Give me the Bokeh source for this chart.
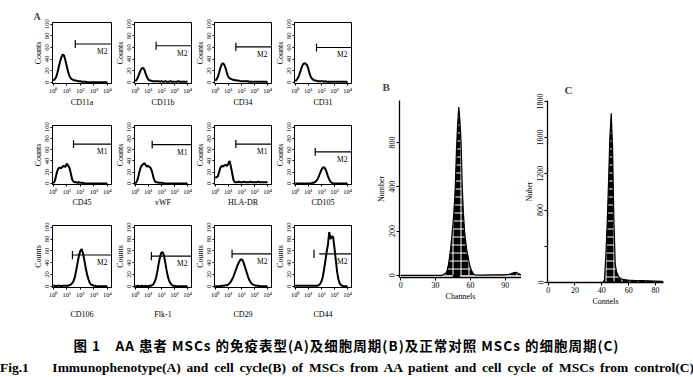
from bokeh.plotting import figure
from bokeh.layouts import row, column
from bokeh.models import Div, AllLabels
from bokeh.core.properties import value
from bokeh.embed import file_html
from bokeh.resources import INLINE

SERIF = "Liberation Serif"

# ---------------- Panel A : immunophenotype histograms ----------------
decades = [0.0, 0.1, 0.2, 0.3, 0.4, 0.5, 0.6, 0.7, 0.8, 0.9,
           1.0, 1.1, 1.2, 1.3, 1.4, 1.5, 1.6, 1.7, 1.8, 1.9,
           2.0, 2.1, 2.2, 2.3, 2.4, 2.5, 2.6, 2.7, 2.8, 2.9,
           3.0, 3.1, 3.2, 3.3, 3.4, 3.5, 3.6, 3.7, 3.8, 3.9, 4.0]

cd11a = [3, 5, 8, 15, 25, 35, 43, 48, 46, 38, 28, 18, 11, 7, 5, 4, 3, 3, 2, 2,
         2, 1, 1, 1, 1, 0, 0, 0, 0, 0, 0, 0, 0, 0, 0, 0, 0, 0, 0, 0, 0]
cd11b = [2, 4, 8, 14, 20, 24, 25, 22, 15, 9, 5, 3, 3, 2, 2, 2, 2, 2, 2, 1,
         2, 1, 1, 2, 1, 1, 1, 2, 1, 1, 1, 1, 1, 2, 1, 1, 1, 1, 1, 1, 1]
cd34 = [3, 5, 9, 16, 25, 31, 33, 30, 24, 16, 10, 7, 6, 5, 4, 4, 3, 3, 3, 2,
        2, 2, 2, 2, 2, 2, 1, 1, 1, 1, 1, 1, 1, 1, 1, 1, 1, 1, 1, 1, 0]
cd31 = [2, 4, 7, 12, 19, 26, 31, 33, 32, 30, 24, 15, 9, 6, 4, 3, 3, 2, 2, 2,
        2, 2, 1, 2, 1, 1, 1, 1, 1, 1, 1, 1, 1, 1, 1, 1, 1, 1, 1, 1, 0]
cd45 = [0, 3, 12, 22, 27, 28, 27, 30, 31, 29, 35, 32, 28, 18, 7, 3, 2, 2, 1, 2,
        1, 1, 1, 0, 0, 0, 0, 0, 0, 0, 0, 0, 0, 0, 0, 0, 0, 0, 0, 0, 0]
vwf = [0, 2, 8, 18, 27, 32, 34, 36, 33, 30, 31, 29, 27, 20, 10, 4, 2, 2, 1, 1,
       1, 1, 0, 0, 0, 0, 0, 0, 0, 0, 0, 0, 0, 0, 0, 0, 0, 0, 0, 0, 0]
hla_dr = [10, 11, 12, 20, 28, 31, 30, 32, 33, 31, 35, 40, 30, 18, 6, 2, 2, 2, 3, 2,
          2, 2, 3, 2, 2, 2, 2, 3, 2, 2, 2, 2, 2, 3, 2, 2, 2, 2, 2, 2, 2]
cd105 = [0, 0, 0, 0, 0, 0, 0, 0, 0, 0, 0, 0, 0, 1, 1, 2, 4, 7, 12, 18,
         24, 28, 29, 26, 20, 13, 7, 3, 1, 0, 0, 0, 0, 0, 0, 0, 0, 0, 0, 0, 0]
cd106 = [1, 1, 0, 1, 1, 1, 0, 1, 1, 1, 1, 1, 2, 3, 5, 9, 16, 27, 40, 52,
         60, 63, 56, 44, 31, 20, 12, 6, 3, 2, 1, 1, 0, 0, 0, 0, 0, 0, 0, 0, 0]
flk1 = [0, 0, 1, 0, 0, 1, 0, 0, 1, 0, 0, 1, 1, 2, 4, 8, 15, 26, 39, 50,
        57, 58, 52, 40, 27, 16, 9, 5, 2, 1, 1, 0, 0, 0, 0, 0, 0, 0, 0, 0, 0]
cd29 = [0, 0, 0, 0, 0, 1, 1, 1, 2, 2, 3, 5, 8, 12, 17, 23, 29, 35, 40, 44,
        46, 44, 38, 31, 24, 17, 11, 7, 4, 3, 2, 1, 1, 1, 0, 0, 0, 0, 0, 0, 0]
cd44 = [1, 1, 1, 1, 1, 1, 1, 1, 1, 1, 1, 1, 1, 1, 1, 1, 1, 1, 2, 4,
        8, 15, 28, 42, 58, 70, 92, 80, 85, 83, 65, 45, 25, 12, 5, 2, 1, 0, 0, 0, 0]

panel_names = ["CD11a", "CD11b", "CD34", "CD31",
               "CD45", "vWF", "HLA-DR", "CD105",
               "CD106", "Flk-1", "CD29", "CD44"]
panel_counts = [cd11a, cd11b, cd34, cd31, cd45, vwf, hla_dr, cd105,
                cd106, flk1, cd29, cd44]

gate_tick = [1.63, 1.60, 1.58, 1.63, 1.50, 1.30, 1.58, 1.53, 1.42, 1.24, 1.29, 1.44]
gate_start = [1.63, 1.60, 1.58, 1.63, 1.50, 1.30, 1.58, 1.53, 1.42, 1.24, 1.29, 1.84]
gate_level = [66, 63, 61, 60, 70, 69, 70, 56, 53, 51, 55, 55]
gate_name = ["M2", "M2", "M2", "M2", "M1", "M1", "M1", "M2", "M2", "M2", "M2", "M2"]

decade_ticks = [0, 1, 2, 3, 4]
decade_labels = ["10⁰", "10¹", "10²", "10³", "10⁴"]
count_ticks = [0, 20, 40, 60, 80, 100]
count_labels = ["0", "20", "40", "60", "80", "100"]

# ---------------- Panels B and C : cell cycle ----------------
b_channel = [0, 36, 39, 40, 41, 42, 43, 44, 45, 46, 47, 48, 49, 50, 51, 52, 53, 54, 55,
             56, 57, 58, 59, 60, 61, 62, 63, 64, 70, 80, 88, 93, 95, 97, 99, 101, 103, 104]
b_number = [0, 0, 10, 22, 45, 80, 120, 175, 230, 300, 400, 560, 680, 760, 700, 600, 400,
            280, 200, 150, 110, 85, 55, 35, 22, 12, 5, 2, 1, 2, 2, 4, 7, 11, 13, 9, 3, 1]
b_g1_mark = [48]
b_xticks = [0, 30, 60, 90]
b_yticks = [0, 200, 400, 600]
b_ylabels = ["0", "200", "400", "800"]

c_channel = [0, 40, 41, 42, 43, 44, 45, 46, 47, 48, 49, 50, 51, 52, 53, 54, 55, 56, 58,
             60, 65, 70, 75, 80, 85, 86]
c_number = [0, 0, 5, 30, 300, 650, 1100, 1600, 1870, 1500, 700, 200, 120, 80, 60, 45,
            38, 34, 30, 27, 22, 20, 18, 15, 12, 0]
c_g1_mark = [47]
c_xticks = [0, 20, 40, 60, 80]
c_yticks = [0, 400, 800, 1200, 1600, 2000]
c_ylabels = ["0", "", "800", "1200", "1600", "1800"]


def style_axes(p, tick_size, label_size):
    for ax in (p.xaxis[0], p.yaxis[0]):
        ax.major_label_text_font = SERIF
        ax.axis_label_text_font = SERIF
        ax.major_label_text_font_size = tick_size
        ax.axis_label_text_font_size = label_size
        ax.axis_label_text_font_style = "normal"
        ax.major_label_text_color = "black"
        ax.axis_label_text_color = "black"
        ax.axis_line_color = "black"
        ax.major_tick_line_color = "black"
        ax.minor_tick_line_color = None
        ax.major_label_policy = AllLabels()
    p.xgrid.visible = False
    p.ygrid.visible = False


ROW_H = [109, 100, 112]
ROW_TOP = [22, 16, 16]
ROW_BOTTOM = [25, 22, 34]
ROW_XLABEL_STANDOFF = [1, 0, 9]

figs = []
for i in range(12):
    r = i // 4
    c = i % 4
    first = c == 0
    p = figure(width=112 if first else 80, height=ROW_H[r],
               x_range=(-0.05, 4.3), y_range=(-2, 103),
               output_backend="svg", toolbar_location=None,
               min_border_left=52 if first else 20, min_border_right=1,
               min_border_top=ROW_TOP[r], min_border_bottom=ROW_BOTTOM[r],
               background_fill_color="white", border_fill_color="white")
    p.outline_line_color = "black"
    p.outline_line_width = 1
    style_axes(p, "6.5px", "8px")
    p.xaxis.ticker = decade_ticks
    p.xaxis.major_label_overrides = dict(zip(decade_ticks, decade_labels))
    p.yaxis.ticker = count_ticks
    p.yaxis.major_label_overrides = dict(zip(count_ticks, count_labels))
    p.yaxis.major_label_orientation = "vertical"
    p.xaxis.axis_label = panel_names[i]
    p.yaxis.axis_label = "Counts"
    p.xaxis.major_tick_out = 2
    p.xaxis.major_tick_in = 0
    p.yaxis.major_tick_out = 2
    p.yaxis.major_tick_in = 0
    p.xaxis.major_label_standoff = 1
    p.yaxis.major_label_standoff = 1
    p.xaxis.axis_label_standoff = ROW_XLABEL_STANDOFF[r]
    p.yaxis.axis_label_standoff = 0
    p.line(decades, panel_counts[i], line_color="black", line_width=2)
    p.segment(x0=[gate_start[i]], y0=[gate_level[i]], x1=[4.3], y1=[gate_level[i]],
              line_color="black", line_width=1.2)
    p.segment(x0=[gate_tick[i]], y0=[gate_level[i] - 7], x1=[gate_tick[i]],
              y1=[gate_level[i] + 7], line_color="black", line_width=1.2)
    p.text(x=[4.3], y=[gate_level[i]], text=[gate_name[i]], text_align="right",
           text_baseline="top", x_offset=-4, y_offset=3,
           text_font=value(SERIF), text_font_size="7.5px", text_color="black")
    if i == 0:
        p.title.text = "A"
        p.title.align = "left"
        p.title.offset = -19
        p.title.standoff = 2
        p.title.text_font = SERIF
        p.title.text_font_size = "10px"
        p.title.text_font_style = "bold"
    figs.append(p)

rows_a = [row(*figs[0:4]), row(*figs[4:8]), row(*figs[8:12])]
col_a = column(*rows_a)


def cycle_panel(width, height, left, right, top, xr, yr, label, label_offset,
                label_standoff, xlab, ylab):
    p = figure(width=width, height=height, x_range=xr, y_range=yr,
               output_backend="svg", toolbar_location=None,
               min_border_left=left, min_border_right=right,
               min_border_top=top, min_border_bottom=25)
    p.outline_line_color = None
    style_axes(p, "8px", "8px")
    p.xaxis.axis_label = xlab
    p.yaxis.axis_label = ylab
    p.yaxis.major_label_orientation = "vertical"
    for ax in (p.xaxis[0], p.yaxis[0]):
        ax.major_tick_out = 3
        ax.major_tick_in = 0
        ax.major_label_standoff = 1
        ax.axis_label_standoff = 1
        ax.axis_line_width = 1.3
    p.title.text = label
    p.title.align = "left"
    p.title.offset = label_offset
    p.title.standoff = label_standoff
    p.title.text_font = SERIF
    p.title.text_font_size = "11px"
    p.title.text_font_style = "bold"
    return p


pB = cycle_panel(169, 303, 47, 0, 100, (-1, 104), (-10, 790), "B", -17, 16,
                 "Channels", "Number")
pB.xaxis.ticker = b_xticks
pB.yaxis.ticker = b_yticks
pB.yaxis.major_label_overrides = dict(zip(b_yticks, b_ylabels))
pB.varea(x=b_channel, y1=0, y2=b_number, fill_color="black",
         hatch_pattern="+", hatch_color="white", hatch_scale=8, hatch_weight=1)
pB.line(b_channel, b_number, line_color="black", line_width=1.2)
pB.scatter(x=b_g1_mark, y=[0], marker="triangle", size=8, color="black")

pC = cycle_panel(172, 308, 19, 30, 97, (-0.5, 86), (0, 2010), "C", 17, 10,
                 "Connels", "Nuber")
pC.xaxis.ticker = c_xticks
pC.yaxis.ticker = c_yticks
pC.yaxis.major_label_overrides = dict(zip(c_yticks, c_ylabels))
pC.varea(x=c_channel, y1=0, y2=c_number, fill_color="black",
         hatch_pattern="+", hatch_color="white", hatch_scale=8, hatch_weight=1)
pC.line(c_channel, c_number, line_color="black", line_width=1.2)
pC.scatter(x=c_g1_mark, y=[0], marker="triangle", size=8, color="black")

top = row(col_a, pB, pC)

caption_cn = "图 1　AA 患者 MSCs 的免疫表型(A)及细胞周期(B)及正常对照 MSCs 的细胞周期(C)"
caption_en = ("Fig.1&nbsp;&nbsp;&nbsp;&nbsp;Immunophenotype(A) and cell cycle(B) of MSCs "
              "from AA patient and cell cycle of MSCs from control(C)")

div_cn = Div(text=('<div style="font-family:\'Noto Sans CJK SC\';font-weight:bold;'
                   'font-size:13.5px;letter-spacing:1px;line-height:14px;text-align:center;'
                   'white-space:nowrap;color:black;width:693px;">' + caption_cn + '</div>'),
             width=693, height=14, margin=(17, 0, 0, 0))
div_en = Div(text=('<div style="font-family:\'Liberation Serif\';font-weight:bold;'
                   'font-size:13.5px;word-spacing:2.5px;line-height:12px;white-space:nowrap;'
                   'color:black;width:693px;">' + caption_en + '</div>'),
             width=693, height=12, margin=(8, 0, 0, 0))

layout = column(top, div_cn, div_en)

open("out.html", "w").write(file_html(layout, INLINE))
